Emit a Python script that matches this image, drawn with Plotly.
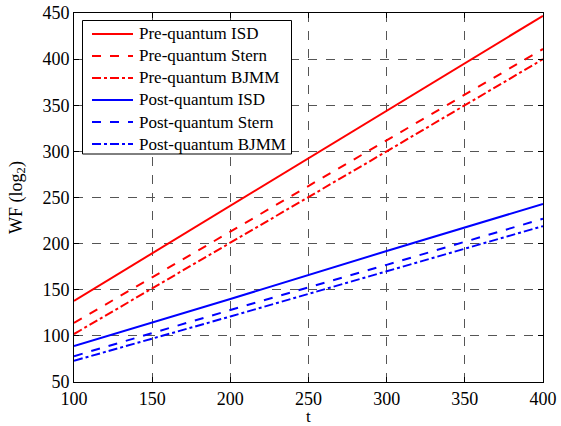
import plotly.graph_objects as go

t = [100, 200, 300, 400]
pre_isd = [138, 241, 344, 447]
pre_stern = [114, 213, 312, 411]
pre_bjmm = [102, 201, 300, 400]
post_isd = [89, 140, 192, 243]
post_stern = [78, 128, 177, 227]
post_bjmm = [73, 121, 170, 219]

x_ticks = [100, 150, 200, 250, 300, 350, 400]
y_ticks = [50, 100, 150, 200, 250, 300, 350, 400, 450]

series = [
    ("Pre-quantum ISD", pre_isd, "#ff0000", "solid"),
    ("Pre-quantum Stern", pre_stern, "#ff0000", "dash"),
    ("Pre-quantum BJMM", pre_bjmm, "#ff0000", "dashdot"),
    ("Post-quantum ISD", post_isd, "#0000ff", "solid"),
    ("Post-quantum Stern", post_stern, "#0000ff", "dash"),
    ("Post-quantum BJMM", post_bjmm, "#0000ff", "dashdot"),
]

# plot-area geometry in pixels (for converting legend layout to paper coords)
L, R, T, B = 74, 543, 13, 382
def px(xp):
    return (xp - L) / (R - L)
def py(yp):
    return (B - yp) / (B - T)

fig = go.Figure()
for name, y, c, d in series:
    fig.add_trace(go.Scatter(x=t, y=y, mode="lines", name=name, showlegend=False,
                             line=dict(color=c, dash=d, width=2)))

font = "Liberation Serif"
axis_common = dict(
    showgrid=True, gridcolor="#555555", griddash="dash", gridwidth=1,
    showline=True, linecolor="black", linewidth=1, mirror="ticks",
    ticks="inside", ticklen=5, tickcolor="black",
    tickfont=dict(family=font, size=18, color="black"),
    zeroline=False, automargin=False,
)
fig.update_xaxes(range=[100, 400], tickvals=x_ticks, **axis_common)
fig.update_yaxes(range=[50, 450], tickvals=y_ticks,
                 title=dict(text="WF (log<sub>2</sub>)", font=dict(family=font, size=18, color="black")),
                 **axis_common)

fig.add_annotation(text="t", xref="paper", yref="paper", x=0.5, y=py(416.5),
                   xanchor="center", yanchor="middle", showarrow=False,
                   font=dict(family=font, size=17, color="black"))

# manual legend box
fig.add_shape(type="rect", xref="paper", yref="paper",
              x0=px(82.5), x1=px(291.5), y0=py(154), y1=py(20.5),
              fillcolor="white", line=dict(color="black", width=1), layer="above")
for i, (name, y, c, d) in enumerate(series):
    yc = 34 + 22 * i
    fig.add_shape(type="line", xref="paper", yref="paper",
                  x0=px(92), x1=px(133), y0=py(yc), y1=py(yc),
                  line=dict(color=c, dash=d, width=2), layer="above")
    fig.add_annotation(text=name, xref="paper", yref="paper", x=px(137), y=py(yc),
                       xanchor="left", yanchor="middle", showarrow=False,
                       font=dict(family=font, size=17, color="black"))

fig.update_layout(
    width=561, height=426,
    margin=dict(l=L, r=561 - R, t=T, b=426 - B),
    paper_bgcolor="white", plot_bgcolor="white",
    font=dict(family=font, color="black"),
    showlegend=False,
)

fig.write_html("out.html", config={"displayModeBar": False},
               post_script="document.body.style.margin='0';")
